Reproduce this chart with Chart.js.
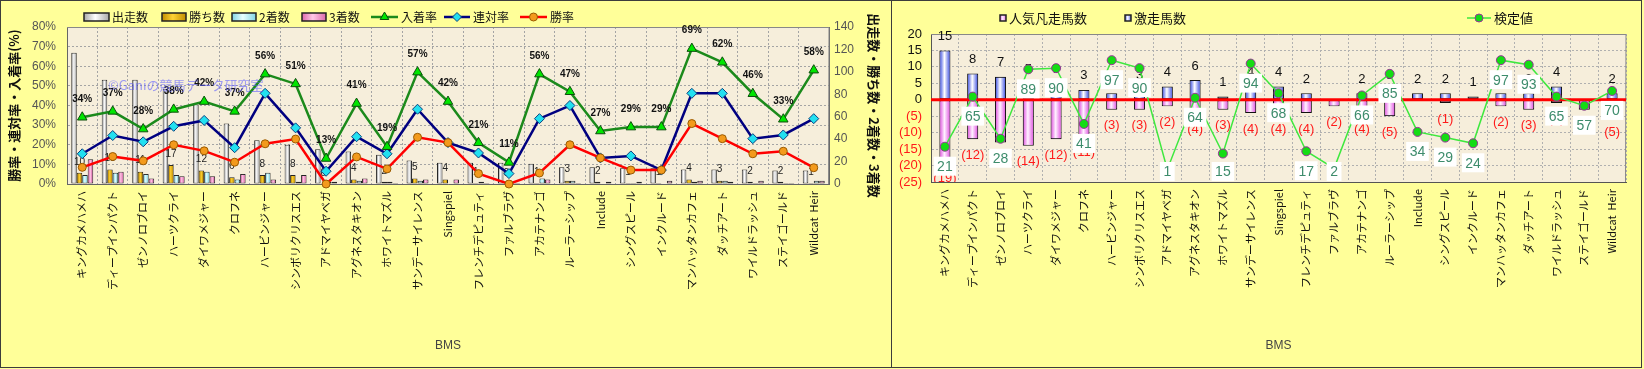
<!DOCTYPE html>
<html lang="ja">
<head>
<meta charset="utf-8">
<title>BMS別成績</title>
<script src="https://cdn.jsdelivr.net/npm/chart.js@4.4.1/dist/chart.umd.min.js"></script>
<style>
  html, body { margin: 0; padding: 0; }
  body { width: 1644px; height: 369px; background: #ffff99; position: relative; overflow: hidden; }
  .panel { position: absolute; top: 0; height: 368px; box-sizing: border-box; border: 1px solid #3c3c3c; }
  #panelL { left: 0; width: 892px; }
  #panelR { left: 891px; width: 751px; }
  canvas { position: absolute; top: 0; }
  #chartL { left: 0; }
  #chartR { left: 892px; }
</style>
</head>
<body>
<div class="panel" id="panelL"></div>
<div class="panel" id="panelR"></div>
<canvas id="chartL" width="892" height="368"></canvas>
<canvas id="chartR" width="750" height="368"></canvas>
<script>
// BMS（母の父）
const bms = ['キングカメハメハ', 'ディープインパクト', 'ゼンノロブロイ', 'ハーツクライ', 'ダイワメジャー',
  'クロフネ', 'ハービンジャー', 'シンボリクリスエス', 'アドマイヤベガ', 'アグネスタキオン',
  'ホワイトマズル', 'サンデーサイレンス', 'Singspiel', 'フレンチデピュティ', 'ファルブラヴ',
  'アカテナンゴ', 'ルーラーシップ', 'Include', 'シングスピール', 'インクルード',
  'マンハッタンカフェ', 'ダッチアート', 'ワイルドラッシュ', 'ステイゴールド', 'Wildcat  Heir'];

// 左グラフ：件数（右軸）
const shussou  = [117, 93, 93, 85, 71, 54, 39, 35, 31, 29, 26, 21, 19, 19, 19, 18, 15, 15, 14, 14, 13, 13, 13, 12, 12];
const kachi    = [10, 13, 11, 17, 12, 6, 8, 8, 0, 4, 2, 5, 4, 1, 0, 1, 3, 2, 1, 1, 4, 3, 2, 2, 1];
const nichaku  = [8, 10, 9, 8, 11, 4, 10, 2, 2, 3, 2, 3, 0, 2, 1, 5, 3, 0, 1, 0, 2, 3, 1, 1, 3];
const sanchaku = [22, 11, 5, 7, 7, 9, 4, 8, 2, 5, 1, 4, 4, 1, 1, 4, 1, 2, 2, 3, 3, 2, 3, 1, 3];

// 左グラフ：率（左軸, %）
const nyuchakuRitsu = [34, 37, 28, 38, 42, 37, 56, 51, 13, 41, 19, 57, 42, 21, 11, 56, 47, 27, 29, 29, 69, 62, 46, 33, 58];
const rentaiRitsu   = [15.4, 24.7, 21.5, 29.4, 32.4, 18.5, 46.2, 28.6, 6.5, 24.1, 15.4, 38.1, 21.1, 15.8, 5.3,
  33.3, 40.0, 13.3, 14.3, 7.1, 46.2, 46.2, 23.1, 25.0, 33.3];
const shouRitsu     = [8.5, 14.0, 11.8, 20.0, 16.9, 11.1, 20.5, 22.9, 0, 13.8, 7.7, 23.8, 21.1, 5.3, 0,
  5.6, 20.0, 13.3, 7.1, 7.1, 30.8, 23.1, 15.4, 16.7, 8.3];

// 右グラフ
const gekisou     = [15, 8, 7, 5, 5, 3, 2, 3, 4, 6, 1, 4, 4, 2, 0, 2, 3, 2, 2, 1, 2, 2, 4, 0, 2];
const ninkiBonsou = [-19, -12, -13, -14, -12, -11, -3, -3, -2, -4, -3, -4, -4, -4, -2, -4, -5, 0, -1, 0, -2, -3, -1, -3, -5];
const kenteichi   = [21, 65, 28, 89, 90, 41, 97, 90, 1, 64, 15, 94, 68, 17, 2, 66, 85, 34, 29, 24, 97, 93, 65, 57, 70];

const fontJP = "'Noto Sans CJK JP', 'Liberation Sans', sans-serif";
const fontEN = "'Liberation Sans', Arial, sans-serif";
Chart.defaults.font.family = fontJP;
Chart.defaults.color = '#111';

// プロットエリアの背景と上枠
const plotFrame = {
  id: 'plotFrame',
  beforeDraw(chart) {
    const { ctx, chartArea: a } = chart;
    ctx.save();
    ctx.fillStyle = '#f6eedb';
    ctx.fillRect(a.left, a.top, a.width, a.height);
    ctx.restore();
  },
  beforeDatasetsDraw(chart) {
    const { ctx, chartArea: a } = chart;
    ctx.save();
    ctx.strokeStyle = '#888';
    ctx.lineWidth = 1;
    ctx.beginPath();
    ctx.moveTo(a.left, a.top + 0.5);
    ctx.lineTo(a.right, a.top + 0.5);
    ctx.lineTo(a.right - 0.5, a.bottom);
    ctx.stroke();
    ctx.restore();
  }
};

// 棒のグラデーション（枠の内側を塗り直す）
const gradientBars = {
  id: 'gradientBars',
  afterDatasetDraw(chart, args) {
    const ds = chart.data.datasets[args.index];
    if (!ds.grad) return;
    const ctx = chart.ctx;
    ctx.save();
    args.meta.data.forEach(el => {
      const { x, y, base, width } = el.getProps(['x', 'y', 'base', 'width'], true);
      const top = Math.min(y, base) + 1, bot = Math.max(y, base) - 1;
      if (bot - top < 1) return;
      const l = x - width / 2 + 1, r = x + width / 2 - 1;
      const g = ctx.createLinearGradient(l, 0, r, 0);
      g.addColorStop(0, ds.grad[0]);
      g.addColorStop(0.45, ds.grad[1]);
      g.addColorStop(1, ds.grad[0]);
      ctx.fillStyle = g;
      ctx.fillRect(l, top, r - l, bot - top);
    });
    ctx.restore();
  }
};

// 凡例（位置指定で描く）
const ownLegend = {
  id: 'ownLegend',
  afterDraw(chart, args, opts) {
    if (!opts.items) return;
    const ctx = chart.ctx;
    const y = opts.y;
    ctx.save();
    ctx.font = opts.font;
    ctx.textBaseline = 'middle';
    ctx.textAlign = 'left';
    opts.items.forEach(it => {
      if (it.kind === 'box') {
        const g = ctx.createLinearGradient(it.x, 0, it.x + it.w, 0);
        g.addColorStop(0, it.grad[0]);
        g.addColorStop(0.45, it.grad[1]);
        g.addColorStop(1, it.grad[0]);
        ctx.fillStyle = g;
        ctx.fillRect(it.x, y - it.h / 2, it.w, it.h);
        ctx.strokeStyle = '#222';
        ctx.lineWidth = 1.5;
        ctx.strokeRect(it.x, y - it.h / 2, it.w, it.h);
      } else {
        ctx.strokeStyle = it.line;
        ctx.lineWidth = it.lineWidth;
        ctx.beginPath();
        ctx.moveTo(it.x, y);
        ctx.lineTo(it.x + it.w, y);
        ctx.stroke();
        ctx.fillStyle = it.fill;
        ctx.strokeStyle = it.border;
        ctx.lineWidth = 1;
        Chart.helpers.drawPoint(ctx, { pointStyle: it.style, radius: it.r, rotation: 0, borderWidth: 1 }, it.x + it.w / 2, y);
      }
      ctx.fillStyle = '#111';
      ctx.fillText(it.label, it.x + it.w + 3, y + 0.5);
    });
    ctx.restore();
  }
};

// 左グラフ用：勝ち数ラベル・入着率ラベル・透かし
const leftLabels = {
  id: 'leftLabels',
  beforeDatasetDraw(chart, args) {
    if (chart.data.datasets[args.index].key !== 'rentai') return;
    const ctx = chart.ctx;
    ctx.save();
    ctx.font = `10px ${fontEN}`;
    ctx.textAlign = 'center';
    ctx.textBaseline = 'middle';
    ctx.fillStyle = '#222';
    chart.getDatasetMeta(4).data.forEach((b, i) => {
      ctx.fillText(String(kachi[i]), b.x, b.y - 11);
    });
    ctx.restore();
  },
  afterDatasetsDraw(chart) {
    const ctx = chart.ctx;
    ctx.save();
    ctx.font = `bold 10px ${fontEN}`;
    ctx.textAlign = 'center';
    ctx.textBaseline = 'middle';
    ctx.fillStyle = '#111';
    chart.getDatasetMeta(1).data.forEach((p, i) => {
      ctx.fillText(nyuchakuRitsu[i] + '%', p.x, p.y - 18);
    });
    // 透かし
    ctx.font = `13px ${fontJP}`;
    ctx.textAlign = 'left';
    ctx.fillStyle = 'rgba(95, 95, 255, 0.6)';
    ctx.fillText('©Ganiの競馬データ研究室', 108, 85);
    ctx.restore();
  }
};

// 右グラフ用：0線・棒ラベル・検定値ラベル
const rightLabels = {
  id: 'rightLabels',
  beforeDatasetDraw(chart, args) {
    if (args.index !== 0) return;
    const { ctx, chartArea: a, scales } = chart;
    const y0 = scales.y.getPixelForValue(0);
    ctx.save();
    ctx.strokeStyle = '#ff0000';
    ctx.lineWidth = 3;
    ctx.beginPath();
    ctx.moveTo(a.left, y0);
    ctx.lineTo(a.right, y0);
    ctx.stroke();
    ctx.beginPath();
    ctx.rect(a.left, a.top - 20, a.width, a.height + 20);
    ctx.clip();
    ctx.font = `13px ${fontEN}`;
    ctx.textAlign = 'center';
    ctx.textBaseline = 'middle';
    ctx.fillStyle = '#111';
    chart.getDatasetMeta(2).data.forEach((b, i) => {
      if (gekisou[i]) ctx.fillText(String(gekisou[i]), b.x, b.y - 14);
    });
    ctx.fillStyle = '#ff1a1a';
    chart.getDatasetMeta(1).data.forEach((b, i) => {
      if (ninkiBonsou[i]) ctx.fillText('(' + (-ninkiBonsou[i]) + ')', b.x, b.y + 16);
    });
    ctx.restore();
  },
  afterDatasetsDraw(chart) {
    const { ctx, chartArea: a } = chart;
    ctx.save();
    ctx.font = `14px ${fontEN}`;
    ctx.textAlign = 'center';
    ctx.textBaseline = 'middle';
    chart.getDatasetMeta(0).data.forEach((p, i) => {
      const t = String(kenteichi[i]);
      const w = ctx.measureText(t).width + 7, h = 19;
      const cy = Math.min(p.y + 19.5, a.bottom - 10.5);
      ctx.fillStyle = '#ffffff';
      ctx.fillRect(p.x - w / 2, cy - h / 2, w, h);
      ctx.fillStyle = '#3d8c6c';
      ctx.fillText(t, p.x, cy + 1);
    });
    ctx.restore();
  }
};

const gridDash = [2, 2];

// ---------------- 左グラフ ----------------
new Chart(document.getElementById('chartL'), {
  type: 'bar',
  data: {
    labels: bms,
    datasets: [
      { type: 'line', key: 'shou', label: '勝率', data: shouRitsu, yAxisID: 'yL', order: 1, clip: false,
        borderColor: '#ff0000', borderWidth: 2.5, tension: 0,
        pointStyle: 'circle', pointRadius: 4, pointBackgroundColor: '#f39a1c', pointBorderColor: '#9a5a00', pointBorderWidth: 1 },
      { type: 'line', key: 'nyuchaku', label: '入着率', data: nyuchakuRitsu, yAxisID: 'yL', order: 2, clip: false,
        borderColor: '#1b8a1b', borderWidth: 2.5, tension: 0,
        pointStyle: 'triangle', pointRadius: 5.5, pointBackgroundColor: '#00e600', pointBorderColor: '#0d4d0d', pointBorderWidth: 1 },
      { type: 'line', key: 'rentai', label: '連対率', data: rentaiRitsu, yAxisID: 'yL', order: 3, clip: false,
        borderColor: '#000080', borderWidth: 2.5, tension: 0,
        pointStyle: 'rectRot', pointRadius: 5, pointBackgroundColor: '#22e0f0', pointBorderColor: '#0a4080', pointBorderWidth: 1 },
      { label: '出走数', data: shussou, yAxisID: 'yR', order: 10, backgroundColor: '#eeeeee', borderColor: '#222',
        borderWidth: 1, borderSkipped: false, grad: ['#a8a8a8', '#ffffff'] },
      { label: '勝ち数', data: kachi, yAxisID: 'yR', order: 10, backgroundColor: '#e8b400', borderColor: '#222',
        borderWidth: 1, borderSkipped: false, grad: ['#c08c00', '#ffd234'] },
      { label: '2着数', data: nichaku, yAxisID: 'yR', order: 10, backgroundColor: '#b8eef6', borderColor: '#222',
        borderWidth: 1, borderSkipped: false, grad: ['#80d4e4', '#e8ffff'] },
      { label: '3着数', data: sanchaku, yAxisID: 'yR', order: 10, backgroundColor: '#f0a0cc', borderColor: '#222',
        borderWidth: 1, borderSkipped: false, grad: ['#dc68ac', '#ffc8e6'] }
    ]
  },
  options: {
    responsive: false,
    animation: false,
    devicePixelRatio: 1,
    categoryPercentage: 0.72,
    barPercentage: 1.0,
    layout: { padding: { top: 27, left: 0, right: 0, bottom: 0 } },
    plugins: {
      legend: { display: false },
      tooltip: { enabled: false },
      ownLegend: {
        y: 17,
        font: `12px ${fontJP}`,
        items: [
          { kind: 'box', x: 84, w: 25, h: 8, grad: ['#a8a8a8', '#ffffff'], label: '出走数' },
          { kind: 'box', x: 162, w: 24, h: 8, grad: ['#c08c00', '#ffd234'], label: '勝ち数' },
          { kind: 'box', x: 232, w: 24, h: 8, grad: ['#80d4e4', '#e8ffff'], label: '2着数' },
          { kind: 'box', x: 302, w: 24, h: 8, grad: ['#dc68ac', '#ffc8e6'], label: '3着数' },
          { kind: 'line', x: 371, w: 27, line: '#1b8a1b', lineWidth: 2.5, fill: '#00e600', border: '#0d4d0d', style: 'triangle', r: 5, label: '入着率' },
          { kind: 'line', x: 444, w: 26, line: '#000080', lineWidth: 2.5, fill: '#22e0f0', border: '#0a4080', style: 'rectRot', r: 4.5, label: '連対率' },
          { kind: 'line', x: 520, w: 27, line: '#ff0000', lineWidth: 2.5, fill: '#f39a1c', border: '#9a5a00', style: 'circle', r: 4, label: '勝率' }
        ]
      }
    },
    scales: {
      x: {
        afterFit(s) { s.height = 184; },
        grid: { offset: true, color: '#a4a4a4', drawTicks: false },
        border: { color: '#666', dash: gridDash },
        ticks: { autoSkip: false, minRotation: 90, maxRotation: 90, padding: 7, color: '#111', font: { size: 11, family: fontJP } },
        title: { display: true, text: 'BMS', color: '#444', font: { size: 12, family: fontEN }, padding: { top: 0, bottom: 15 } }
      },
      yL: {
        position: 'left',
        min: 0, max: 80,
        afterFit(s) { s.width = 67; },
        grid: { color: '#a4a4a4', drawTicks: false },
        border: { color: '#666', dash: gridDash },
        ticks: { stepSize: 10, autoSkip: false, padding: 11, color: '#555', font: { size: 12, family: "'Liberation Sans Narrow', " + fontEN },
          callback: v => v + '%' },
        title: { display: true, text: '勝率・連対率・入着率(%)', color: '#111',
          font: { size: 13, weight: 'bold', family: fontJP }, padding: { top: 6, bottom: 0 } }
      },
      yR: {
        position: 'right',
        min: 0, max: 140,
        afterFit(s) { s.width = 63; },
        grid: { drawOnChartArea: false, drawTicks: false },
        border: { color: '#666' },
        ticks: { stepSize: 20, autoSkip: false, padding: 5, color: '#555', font: { size: 12, family: "'Liberation Sans Narrow', " + fontEN } },
        title: { display: true, text: '出走数・勝ち数・2着数・3着数', color: '#111',
          font: { size: 13, weight: 'bold', family: fontJP }, padding: { top: 10, bottom: 0 } }
      }
    }
  },
  plugins: [plotFrame, gradientBars, leftLabels, ownLegend]
});

// ---------------- 右グラフ ----------------
new Chart(document.getElementById('chartR'), {
  type: 'bar',
  data: {
    labels: bms,
    datasets: [
      { type: 'line', label: '検定値', data: kenteichi, yAxisID: 'yK', order: 0, clip: false,
        borderColor: '#3ee83e', borderWidth: 1.5, tension: 0,
        pointStyle: 'circle', pointRadius: 4.5, pointBackgroundColor: '#14dc14', pointBorderColor: '#993399', pointBorderWidth: 1 },
      { label: '人気凡走馬数', data: ninkiBonsou, yAxisID: 'y', order: 1, backgroundColor: '#f4b8f2', borderColor: '#111',
        borderWidth: 1.2, borderSkipped: false, grad: ['#e466e4', '#fff2ff'] },
      { label: '激走馬数', data: gekisou, yAxisID: 'y', order: 1, backgroundColor: '#b8c0fa', borderColor: '#111',
        borderWidth: 1.2, borderSkipped: false, grad: ['#5464e6', '#ffffff'] }
    ]
  },
  options: {
    responsive: false,
    animation: false,
    devicePixelRatio: 1,
    categoryPercentage: 1.0,
    barPercentage: 0.4,
    layout: { padding: { top: 34, left: 0, right: 16, bottom: 0 } },
    plugins: {
      legend: { display: false },
      tooltip: { enabled: false },
      ownLegend: {
        y: 18,
        font: `13px ${fontJP}`,
        items: [
          { kind: 'box', x: 108, w: 6, h: 6, grad: ['#e466e4', '#fff2ff'], label: '人気凡走馬数' },
          { kind: 'box', x: 233, w: 6, h: 6, grad: ['#5464e6', '#ffffff'], label: '激走馬数' },
          { kind: 'line', x: 575, w: 24, line: '#3ee83e', lineWidth: 1.5, fill: '#14dc14', border: '#993399', style: 'circle', r: 4, label: '検定値' }
        ]
      }
    },
    scales: {
      x: {
        stacked: true,
        afterFit(s) { s.height = 186; },
        grid: { offset: true, color: '#b0b0b0', drawTicks: false },
        border: { color: '#555', dash: gridDash },
        ticks: { autoSkip: false, minRotation: 90, maxRotation: 90, padding: 7, color: '#111', font: { size: 11, family: fontJP } },
        title: { display: true, text: 'BMS', color: '#444', font: { size: 12, family: fontEN }, padding: { top: 0, bottom: 15 } }
      },
      y: {
        stacked: true,
        position: 'left',
        min: -25, max: 20,
        afterFit(s) { s.width = 39; },
        grid: { color: '#b0b0b0', drawTicks: false },
        border: { color: '#555', dash: gridDash },
        ticks: { stepSize: 5, autoSkip: false, padding: 9, font: { size: 13, family: fontEN },
          color: c => (c.tick && c.tick.value < 0 ? '#ff1a1a' : '#111'),
          callback: v => (v < 0 ? '(' + (-v) + ')' : String(v)) }
      },
      yK: {
        display: false,
        position: 'right',
        min: -10, max: 120
      }
    }
  },
  plugins: [plotFrame, gradientBars, rightLabels, ownLegend]
});
</script>
</body>
</html>
